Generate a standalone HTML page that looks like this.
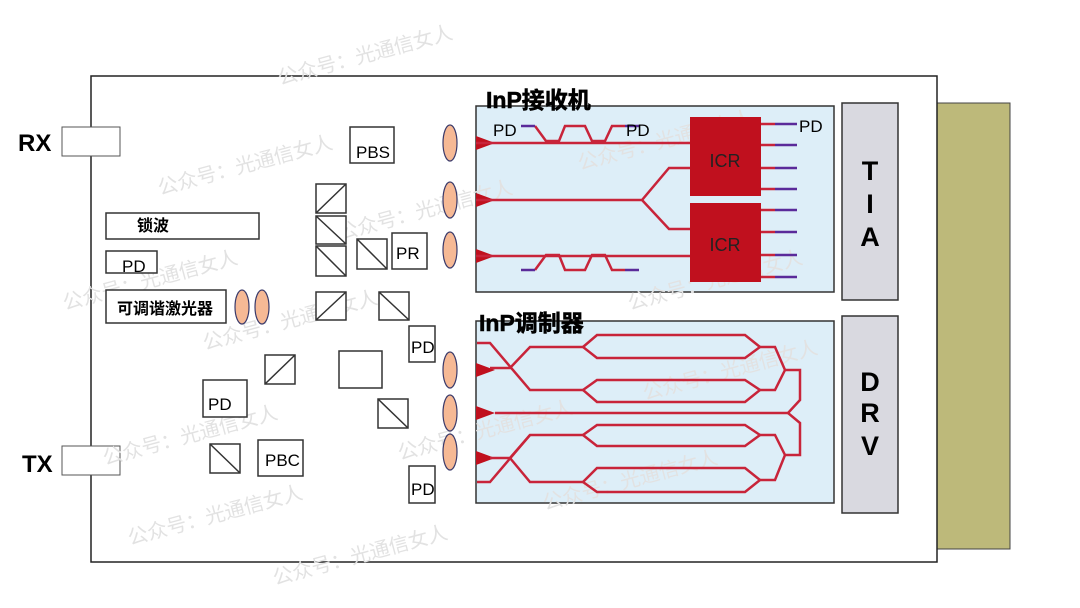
<!DOCTYPE html>
<html><head><meta charset="utf-8"><style>
html,body{margin:0;padding:0;background:#fff;width:1080px;height:608px;overflow:hidden}
svg{display:block}
text{font-family:"Liberation Sans","Noto Sans CJK SC",sans-serif}
</style></head><body>
<svg width="1080" height="608" viewBox="0 0 1080 608" xmlns="http://www.w3.org/2000/svg">
<rect x="937" y="103" width="73" height="446" fill="#bdb97a" stroke="#444" stroke-width="1"/>
<rect x="91" y="76" width="846" height="486" fill="#fff" stroke="#222" stroke-width="1.5"/>
<rect x="62" y="127" width="58" height="29" fill="#fff" stroke="#555"/>
<rect x="62" y="446" width="58" height="29" fill="#fff" stroke="#555"/>
<text x="18" y="151" font-size="24" font-weight="bold">RX</text>
<text x="22" y="472" font-size="24" font-weight="bold">TX</text>
<g fill="#fff" stroke="#333" stroke-width="1.5">
<rect x="842" y="103" width="56" height="197" fill="#d9d9e0"/>
<rect x="842" y="316" width="56" height="197" fill="#d9d9e0"/>
<rect x="476" y="106" width="358" height="186" fill="#ddeef8"/>
<rect x="476" y="321" width="358" height="182" fill="#ddeef8"/>
</g>
<!-- watermarks -->
<g fill="#e2e2e2" font-size="20">
<text transform="translate(280,85) rotate(-15)">公众号：光通信女人</text>
<text transform="translate(160,195) rotate(-15)">公众号：光通信女人</text>
<text transform="translate(580,170) rotate(-15)">公众号：光通信女人</text>
<text transform="translate(65,310) rotate(-15)">公众号：光通信女人</text>
<text transform="translate(340,240) rotate(-15)">公众号：光通信女人</text>
<text transform="translate(630,310) rotate(-15)">公众号：光通信女人</text>
<text transform="translate(205,350) rotate(-15)">公众号：光通信女人</text>
<text transform="translate(645,400) rotate(-15)">公众号：光通信女人</text>
<text transform="translate(105,465) rotate(-15)">公众号：光通信女人</text>
<text transform="translate(400,460) rotate(-15)">公众号：光通信女人</text>
<text transform="translate(545,510) rotate(-15)">公众号：光通信女人</text>
<text transform="translate(130,545) rotate(-15)">公众号：光通信女人</text>
<text transform="translate(275,585) rotate(-15)">公众号：光通信女人</text>
</g>
<g font-size="27" font-weight="bold" text-anchor="middle">
<text x="870" y="180">T</text><text x="870" y="213">I</text><text x="870" y="246">A</text>
<text x="870" y="391">D</text><text x="870" y="422">R</text><text x="870" y="455">V</text>
</g>
<text x="486" y="108" font-size="23" font-weight="bold" stroke="#000" stroke-width="0.6">InP接收机</text>
<text x="479" y="331" font-size="23" font-weight="bold" stroke="#000" stroke-width="0.6">InP调制器</text>
<!-- left components -->
<g fill="#fff" stroke="#333" stroke-width="1.5">
<rect x="350" y="127" width="44" height="36"/>
<rect x="392" y="233" width="35" height="36"/>
<rect x="106" y="213" width="153" height="26"/>
<rect x="106" y="251" width="51" height="22"/>
<rect x="106" y="290" width="120" height="33"/>
<rect x="409" y="326" width="26" height="36"/>
<rect x="339" y="351" width="43" height="37"/>
<rect x="203" y="380" width="44" height="37"/>
<rect x="258" y="440" width="45" height="36"/>
<rect x="409" y="466" width="26" height="37"/>
</g>
<g fill="#fff" stroke="#333" stroke-width="1.5">
<rect x="316" y="184" width="30" height="29"/><path d="M316 213L346 184"/>
<rect x="316" y="216" width="30" height="28"/><path d="M316 216L346 244"/>
<rect x="316" y="246" width="30" height="30"/><path d="M316 246L346 276"/>
<rect x="357" y="239" width="30" height="30"/><path d="M357 239L387 269"/>
<rect x="316" y="292" width="30" height="28"/><path d="M316 320L346 292"/>
<rect x="379" y="292" width="30" height="28"/><path d="M379 292L409 320"/>
<rect x="265" y="355" width="30" height="29"/><path d="M265 384L295 355"/>
<rect x="378" y="399" width="30" height="29"/><path d="M378 399L408 428"/>
<rect x="210" y="444" width="30" height="29"/><path d="M210 444L240 473"/>
</g>
<g font-size="17">
<text x="356" y="158">PBS</text><text x="396" y="259">PR</text>
<text x="122" y="272">PD</text>
<text x="411" y="353">PD</text><text x="208" y="410">PD</text>
<text x="265" y="466">PBC</text><text x="411" y="495">PD</text>
</g>
<text x="137" y="231" font-size="16" font-weight="bold">锁波</text>
<text x="117" y="314" font-size="16" font-weight="bold">可调谐激光器</text>
<g fill="#f6b995" stroke="#3a3a6a" stroke-width="1.2">
<ellipse cx="242" cy="307" rx="7" ry="17"/><ellipse cx="262" cy="307" rx="7" ry="17"/>
<ellipse cx="450" cy="143" rx="7" ry="18"/><ellipse cx="450" cy="200" rx="7" ry="18"/><ellipse cx="450" cy="250" rx="7" ry="18"/>
<ellipse cx="450" cy="370" rx="7" ry="18"/><ellipse cx="450" cy="413" rx="7" ry="18"/><ellipse cx="450" cy="452" rx="7" ry="18"/>
</g>
<!-- receiver -->
<g fill="#c0101e">
<path d="M476 136L495 143L476 150Z"/><path d="M476 193L495 200L476 207Z"/><path d="M476 249L495 256L476 263Z"/>
<path d="M476 363L495 370L476 377Z"/><path d="M476 406L495 413L476 420Z"/><path d="M476 451L495 458L476 465Z"/>
<rect x="690" y="117" width="71" height="79"/><rect x="690" y="203" width="71" height="79"/>
</g>
<g fill="none" stroke="#c8243a" stroke-width="2.5">
<path d="M476 143H690"/><path d="M476 200H642L669 168H690M642 200L669 229H690"/><path d="M476 256H690"/>
<path d="M535 126L546 141H559L565 126H585L592 141H605L612 126H625"/>
<path d="M535 270L546 255H559L565 270H585L592 255H605L612 270H625"/>
<path d="M761 124h14M761 145h14M761 168h14M761 189h14M761 210h14M761 232h14M761 255h14M761 277h14"/>
</g>
<g fill="none" stroke="#5a2a9a" stroke-width="2.5">
<path d="M521 126h14M625 126h14M521 270h14M625 270h14"/>
<path d="M775 124h22M775 145h22M775 168h22M775 189h22M775 210h22M775 232h22M775 255h22M775 277h22"/>
</g>
<text x="493" y="136" font-size="17">PD</text><text x="626" y="136" font-size="17">PD</text><text x="799" y="132" font-size="17">PD</text>
<text x="725" y="167" font-size="18" fill="#222" text-anchor="middle">ICR</text>
<text x="725" y="251" font-size="18" fill="#222" text-anchor="middle">ICR</text>
<!-- modulator -->
<g fill="none" stroke="#c8243a" stroke-width="2.5">
<path d="M477 343H490L530 390H583"/><path d="M490 368H510L530 347H583"/>
<path d="M583 347L597 335H745L760 347L745 358H597Z"/>
<path d="M760 347H775L785 370"/>
<path d="M583 390L597 380H745L760 390L745 402H597Z"/>
<path d="M760 390H775L785 370"/>
<path d="M785 370H800V400L788 413L800 423V455H785"/>
<path d="M495 413H788"/>
<path d="M490 458H510L530 435H583"/><path d="M477 482H490L530 435"/><path d="M510 458L530 482H583"/>
<path d="M583 435L597 425H745L760 435L745 446H597Z"/>
<path d="M760 435H775L785 455"/>
<path d="M583 482L597 468H745L760 480L745 492H597Z"/>
<path d="M760 480H775L785 455"/>
</g>
</svg>
</body></html>
